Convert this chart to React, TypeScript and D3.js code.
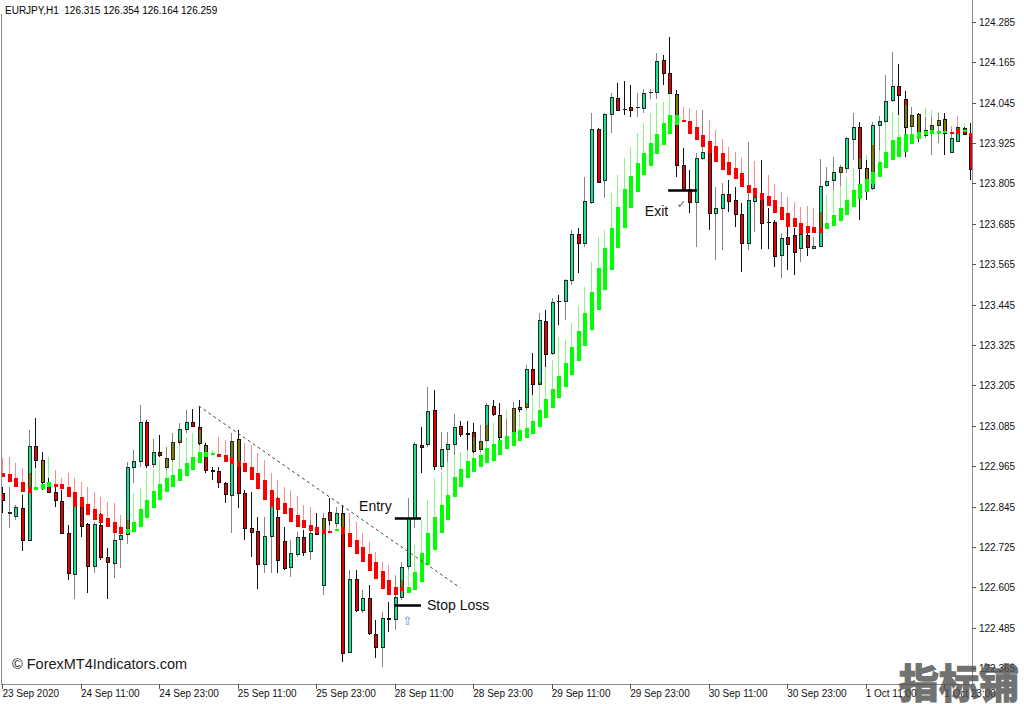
import React, { useEffect, useRef } from "react";
import * as d3 from "d3";

// chart header / footer texts
const symbolTitle = "EURJPY,H1  126.315 126.354 126.164 126.259";
const copyright = "© ForexMT4Indicators.com";
const watermark = "指标铺";

// time axis: label every 12 hourly bars
const timeLabelBars = [0, 12, 24, 36, 48, 60, 72, 84, 96, 108, 120, 132, 144];
const timeLabels = [
  "23 Sep 2020", "24 Sep 11:00", "24 Sep 23:00", "25 Sep 11:00", "25 Sep 23:00",
  "28 Sep 11:00", "28 Sep 23:00", "29 Sep 11:00", "29 Sep 23:00", "30 Sep 11:00",
  "30 Sep 23:00", "1 Oct 11:00", "1 Oct 23:00",
];

// price axis
const priceTicks = [
  124.285, 124.165, 124.045, 123.925, 123.805, 123.685, 123.565, 123.445, 123.325,
  123.205, 123.085, 122.965, 122.845, 122.725, 122.605, 122.485, 122.365,
];
const priceTop = 124.35;
const priceBottom = 122.318;

// EURJPY H1 candles
const opens = [
  122.886, 122.826, 122.817, 122.841, 122.746, 123.025, 122.984, 122.918, 122.889, 122.862,
  122.767, 122.645, 122.847, 122.794, 122.669, 122.791, 122.696, 122.678, 122.749, 122.764,
  122.963, 122.981, 123.097, 122.972, 123.008, 122.963, 122.987, 123.037, 123.076, 123.097,
  123.082, 123.028, 122.954, 122.951, 122.915, 122.880, 123.046, 122.886, 122.782, 122.773,
  122.675, 122.758, 122.815, 122.743, 122.666, 122.705, 122.755, 122.714, 122.782, 122.613,
  122.829, 122.797, 122.826, 122.414, 122.630, 122.538, 122.574, 122.467, 122.428, 122.515,
  122.512, 122.577, 122.669, 122.812, 123.028, 123.031, 123.132, 122.966, 123.017, 123.031,
  123.085, 123.064, 123.067, 123.017, 123.043, 123.144, 123.117, 123.052, 123.064, 123.141,
  123.141, 123.254, 123.210, 123.397, 123.302, 123.456, 123.456, 123.518, 123.655, 123.628,
  123.750, 123.967, 123.815, 124.011, 124.059, 124.026, 124.032, 124.032, 124.029, 124.077,
  124.077, 124.172, 124.133, 124.071, 123.860, 123.789, 123.750, 123.881, 123.899, 123.717,
  123.732, 123.774, 123.756, 123.714, 123.628, 123.753, 123.762, 123.691, 123.691, 123.593,
  123.646, 123.652, 123.613, 123.652, 123.613, 123.619, 123.801, 123.815, 123.839, 123.851,
  123.937, 123.973, 123.851, 123.792, 123.979, 123.991, 124.053, 124.095, 124.056, 123.976,
  124.011, 123.949, 123.955, 123.979, 123.997, 123.899, 123.931, 123.970, 123.955,
];
const highs = [
  122.904, 122.904, 122.850, 122.880, 123.073, 123.109, 123.008, 122.930, 122.904, 122.895,
  122.791, 122.850, 122.859, 122.797, 122.800, 122.826, 122.722, 122.776, 122.788, 122.978,
  123.014, 123.147, 123.103, 123.046, 123.058, 123.022, 123.064, 123.094, 123.132, 123.135,
  123.144, 123.034, 122.963, 122.963, 122.918, 123.064, 123.073, 122.895, 122.889, 122.815,
  122.815, 122.874, 122.874, 122.785, 122.746, 122.770, 122.776, 122.806, 122.826, 122.826,
  122.871, 122.844, 122.850, 122.657, 122.657, 122.598, 122.613, 122.509, 122.532, 122.562,
  122.636, 122.681, 122.871, 123.037, 123.082, 123.201, 123.192, 123.067, 123.067, 123.120,
  123.100, 123.100, 123.094, 123.088, 123.153, 123.162, 123.153, 123.106, 123.156, 123.162,
  123.266, 123.302, 123.420, 123.429, 123.465, 123.474, 123.521, 123.667, 123.673, 123.824,
  124.014, 123.970, 124.014, 124.074, 124.103, 124.109, 124.098, 124.074, 124.086, 124.086,
  124.193, 124.187, 124.240, 124.083, 123.910, 123.845, 123.896, 124.023, 123.905, 123.795,
  123.806, 123.815, 123.795, 123.747, 123.928, 123.777, 123.875, 123.732, 123.697, 123.658,
  123.676, 123.673, 123.670, 123.673, 123.646, 123.878, 123.854, 123.884, 123.860, 123.943,
  124.014, 123.988, 123.875, 123.988, 124.005, 124.127, 124.196, 124.160, 124.080, 124.032,
  124.014, 124.003, 124.003, 124.014, 124.014, 123.967, 123.976, 123.973, 123.985,
];
const lows = [
  122.826, 122.782, 122.806, 122.714, 122.743, 122.960, 122.895, 122.886, 122.844, 122.764,
  122.627, 122.571, 122.755, 122.589, 122.648, 122.687, 122.571, 122.633, 122.663, 122.734,
  122.915, 122.963, 122.960, 122.960, 122.993, 122.954, 122.978, 123.028, 123.064, 123.082,
  123.028, 122.945, 122.924, 122.901, 122.856, 122.767, 122.841, 122.746, 122.696, 122.601,
  122.648, 122.648, 122.648, 122.657, 122.636, 122.696, 122.699, 122.687, 122.761, 122.583,
  122.791, 122.785, 122.384, 122.411, 122.532, 122.529, 122.464, 122.396, 122.369, 122.473,
  122.479, 122.568, 122.657, 122.782, 122.945, 123.022, 122.954, 122.954, 122.978, 122.999,
  123.052, 123.014, 123.005, 123.008, 123.037, 123.114, 123.043, 123.028, 123.055, 123.126,
  123.132, 123.177, 123.207, 123.260, 123.296, 123.385, 123.400, 123.504, 123.539, 123.616,
  123.744, 123.806, 123.762, 123.955, 124.023, 124.008, 124.003, 124.003, 124.014, 124.056,
  124.056, 124.098, 124.074, 123.824, 123.789, 123.717, 123.616, 123.875, 123.667, 123.578,
  123.608, 123.720, 123.676, 123.542, 123.608, 123.661, 123.610, 123.610, 123.557, 123.524,
  123.548, 123.533, 123.572, 123.590, 123.610, 123.616, 123.795, 123.786, 123.798, 123.836,
  123.875, 123.697, 123.756, 123.786, 123.905, 123.985, 124.047, 124.008, 123.884, 123.952,
  123.928, 123.940, 123.890, 123.925, 123.890, 123.896, 123.931, 123.952, 123.815,
];
const closes = [
  122.865, 122.829, 122.844, 122.746, 123.025, 122.984, 122.918, 122.889, 122.865, 122.767,
  122.648, 122.847, 122.788, 122.669, 122.794, 122.696, 122.681, 122.746, 122.761, 122.963,
  122.981, 123.097, 122.969, 123.008, 122.999, 122.990, 123.037, 123.076, 123.097, 123.085,
  123.034, 122.954, 122.951, 122.918, 122.883, 123.040, 122.886, 122.782, 122.770, 122.675,
  122.758, 122.847, 122.687, 122.663, 122.708, 122.755, 122.711, 122.767, 122.764, 122.812,
  122.806, 122.826, 122.411, 122.630, 122.538, 122.574, 122.470, 122.428, 122.515, 122.512,
  122.577, 122.666, 122.812, 123.031, 123.022, 123.129, 122.966, 123.017, 123.031, 123.082,
  123.061, 123.061, 123.011, 123.040, 123.147, 123.120, 123.052, 123.055, 123.138, 123.135,
  123.254, 123.210, 123.400, 123.299, 123.453, 123.455, 123.518, 123.655, 123.628, 123.753,
  123.967, 123.809, 124.011, 124.062, 124.023, 124.025, 124.023, 124.033, 124.074, 124.078,
  124.169, 124.133, 124.074, 123.860, 123.789, 123.750, 123.881, 123.899, 123.717, 123.732,
  123.774, 123.753, 123.714, 123.628, 123.756, 123.765, 123.688, 123.690, 123.590, 123.643,
  123.625, 123.602, 123.655, 123.616, 123.619, 123.798, 123.812, 123.839, 123.854, 123.940,
  123.973, 123.851, 123.815, 123.979, 123.991, 124.050, 124.095, 124.068, 123.973, 124.008,
  123.958, 123.964, 123.979, 123.994, 123.955, 123.940, 123.973, 123.952, 123.848,
];

// smoothed heiken ashi indicator (body open/close and upper wick)
const haOpen = [
  122.945, 122.942, 122.930, 122.918, 122.904, 122.895, 122.898, 122.904, 122.913, 122.913,
  122.904, 122.889, 122.874, 122.853, 122.838, 122.823, 122.812, 122.800, 122.785, 122.767,
  122.770, 122.785, 122.812, 122.841, 122.865, 122.889, 122.904, 122.921, 122.936, 122.954,
  122.975, 122.993, 122.999, 123.002, 122.999, 122.990, 122.981, 122.975, 122.963, 122.945,
  122.924, 122.895, 122.871, 122.856, 122.841, 122.820, 122.806, 122.791, 122.785, 122.779,
  122.773, 122.773, 122.785, 122.767, 122.746, 122.725, 122.705, 122.681, 122.654, 122.627,
  122.607, 122.607, 122.589, 122.598, 122.621, 122.672, 122.717, 122.767, 122.806, 122.874,
  122.904, 122.930, 122.948, 122.963, 122.975, 122.981, 122.999, 123.017, 123.025, 123.040,
  123.049, 123.061, 123.082, 123.109, 123.138, 123.168, 123.201, 123.236, 123.278, 123.322,
  123.370, 123.429, 123.489, 123.548, 123.613, 123.673, 123.732, 123.780, 123.830, 123.857,
  123.893, 123.919, 123.952, 123.979, 123.994, 123.991, 123.973, 123.949, 123.931, 123.916,
  123.896, 123.869, 123.851, 123.836, 123.801, 123.792, 123.777, 123.768, 123.756, 123.735,
  123.717, 123.703, 123.688, 123.679, 123.676, 123.673, 123.670, 123.679, 123.694, 123.711,
  123.735, 123.759, 123.780, 123.804, 123.824, 123.851, 123.875, 123.884, 123.899, 123.922,
  123.937, 123.949, 123.952, 123.952, 123.955, 123.958, 123.967, 123.958, 123.955,
];
const haClose = [
  122.933, 122.918, 122.904, 122.889, 122.886, 122.904, 122.913, 122.918, 122.904, 122.898,
  122.874, 122.844, 122.844, 122.820, 122.806, 122.797, 122.785, 122.767, 122.764, 122.779,
  122.800, 122.838, 122.865, 122.892, 122.913, 122.930, 122.939, 122.957, 122.975, 122.993,
  123.008, 123.008, 123.005, 122.993, 122.978, 122.972, 122.963, 122.948, 122.924, 122.898,
  122.865, 122.844, 122.835, 122.823, 122.800, 122.785, 122.782, 122.773, 122.767, 122.764,
  122.767, 122.779, 122.764, 122.725, 122.705, 122.681, 122.654, 122.630, 122.601, 122.583,
  122.583, 122.595, 122.607, 122.651, 122.708, 122.767, 122.815, 122.850, 122.880, 122.933,
  122.957, 122.981, 122.990, 122.999, 123.020, 123.031, 123.043, 123.055, 123.067, 123.073,
  123.079, 123.100, 123.132, 123.165, 123.195, 123.233, 123.272, 123.319, 123.367, 123.420,
  123.483, 123.554, 123.613, 123.673, 123.735, 123.789, 123.827, 123.866, 123.896, 123.925,
  123.952, 123.985, 124.008, 124.008, 123.988, 123.952, 123.934, 123.913, 123.896, 123.869,
  123.845, 123.830, 123.818, 123.795, 123.777, 123.765, 123.756, 123.738, 123.717, 123.697,
  123.676, 123.676, 123.655, 123.658, 123.658, 123.658, 123.688, 123.711, 123.732, 123.756,
  123.786, 123.804, 123.818, 123.839, 123.869, 123.899, 123.934, 123.943, 123.952, 123.952,
  123.958, 123.961, 123.964, 123.961, 123.961, 123.952, 123.952, 123.964, 123.943,
];
const haHigh = [
  122.990, 122.993, 122.975, 122.960, 122.945, 122.984, 122.993, 122.993, 122.954, 122.930,
  122.945, 122.930, 122.918, 122.904, 122.889, 122.874, 122.859, 122.856, 122.820, 122.806,
  122.886, 122.901, 122.951, 122.957, 122.984, 123.020, 123.043, 123.043, 123.052, 123.064,
  123.073, 123.037, 123.014, 123.052, 123.043, 123.043, 123.067, 123.034, 123.028, 123.005,
  122.984, 122.945, 122.924, 122.904, 122.895, 122.877, 122.850, 122.844, 122.826, 122.812,
  122.806, 122.791, 122.820, 122.826, 122.800, 122.767, 122.740, 122.711, 122.681, 122.672,
  122.642, 122.627, 122.657, 122.731, 122.806, 122.865, 122.930, 122.948, 122.978, 123.008,
  123.008, 123.037, 123.052, 123.064, 123.088, 123.094, 123.117, 123.132, 123.153, 123.162,
  123.153, 123.192, 123.215, 123.275, 123.281, 123.349, 123.340, 123.391, 123.441, 123.498,
  123.572, 123.646, 123.667, 123.777, 123.830, 123.881, 123.913, 123.955, 123.985, 124.014,
  124.044, 124.047, 124.077, 124.077, 124.032, 124.029, 124.023, 124.003, 123.994, 123.964,
  123.937, 123.913, 123.899, 123.881, 123.881, 123.872, 123.854, 123.830, 123.804, 123.780,
  123.765, 123.750, 123.735, 123.738, 123.732, 123.720, 123.771, 123.786, 123.851, 123.821,
  123.851, 123.881, 123.890, 123.919, 123.949, 123.985, 124.017, 124.023, 124.038, 124.032,
  124.014, 124.029, 124.023, 124.017, 124.014, 123.976, 124.005, 123.985, 123.985,
];

// drawn objects on the chart (bar index, price)
const trendStart = { bar: 30, price: 123.144 };
const trendEnd = { bar: 70, price: 122.604 };
const entryLine = { label: "Entry", from: 60, to: 64, price: 122.812 };
const stopLine = { label: "Stop Loss", from: 60, to: 64, price: 122.553 };
const exitLine = { label: "Exit", from: 101.8, to: 106.2, price: 123.786 };
const arrowMark = { bar: 62, price: 122.506 };
const checkMark = { bar: 103.8, price: 123.741 };

const FONT = "'Liberation Sans', Arial, sans-serif";

const CandleChart = () => {
  const svgRef = useRef(null);

  useEffect(() => {
    const svg = d3.select(svgRef.current);
    svg.selectAll("*").remove();

    const plotRight = 972;
    const plotBottom = 684;

    const x = d3.scaleLinear().domain([0, opens.length - 1]).range([2.4, 970.3]);
    const y = d3.scaleLinear().domain([priceBottom, priceTop]).range([plotBottom, 0]);

    svg.append("rect").attr("width", 1024).attr("height", 704).attr("fill", "#ffffff");

    const plot = svg.append("g");
    const idx = d3.range(opens.length);
    const px = (i) => Math.round(x(i));
    const py = (p) => Math.round(y(p));

    // indicator wicks (under candles)
    plot
      .append("g")
      .selectAll("line")
      .data(idx)
      .join("line")
      .attr("x1", (i) => px(i) + 0.5)
      .attr("x2", (i) => px(i) + 0.5)
      .attr("y1", (i) => py(haHigh[i]))
      .attr("y2", (i) => py(Math.max(haOpen[i], haClose[i])))
      .attr("stroke", (i) => (haClose[i] >= haOpen[i] ? "#86f786" : "#ff8a8a"))
      .attr("stroke-width", 1);

    // candle wicks
    plot
      .append("g")
      .selectAll("line")
      .data(idx)
      .join("line")
      .attr("x1", (i) => px(i) + 0.5)
      .attr("x2", (i) => px(i) + 0.5)
      .attr("y1", (i) => py(highs[i]))
      .attr("y2", (i) => py(lows[i]))
      .attr("stroke", (i) => (closes[i] >= opens[i] ? "#858585" : "#111111"))
      .attr("stroke-width", 1);

    // candle bodies
    const bodies = plot.append("g");
    idx.forEach((i) => {
      const up = closes[i] >= opens[i];
      const top = py(Math.max(opens[i], closes[i]));
      const bot = py(Math.min(opens[i], closes[i]));
      const cx = px(i);
      if (bot - top < 1) {
        bodies
          .append("line")
          .attr("x1", cx - 1)
          .attr("x2", cx + 3)
          .attr("y1", top + 0.5)
          .attr("y2", top + 0.5)
          .attr("stroke", up ? "#2a2a2a" : "#111111");
        return;
      }
      bodies
        .append("rect")
        .attr("x", cx - 0.5)
        .attr("y", top + 0.5)
        .attr("width", 3)
        .attr("height", bot - top)
        .attr("fill", up ? "#17e38a" : "#e80000")
        .attr("stroke", up ? "#2a2a2a" : "#111111")
        .attr("stroke-width", 1);

      // where the indicator wick crosses a body it shows as olive
      const wTop = Math.max(top + 1, py(haHigh[i]));
      const wBot = Math.min(bot, py(Math.max(haOpen[i], haClose[i])));
      if (wBot - wTop >= 1) {
        bodies
          .append("rect")
          .attr("x", cx)
          .attr("y", wTop)
          .attr("width", 2)
          .attr("height", wBot - wTop)
          .attr("fill", "#7d7a08");
      }
    });

    // indicator bodies on top
    plot
      .append("g")
      .selectAll("rect")
      .data(idx)
      .join("rect")
      .attr("x", (i) => px(i) - 1)
      .attr("y", (i) => py(Math.max(haOpen[i], haClose[i])))
      .attr("width", 4)
      .attr("height", (i) =>
        Math.max(2, py(Math.min(haOpen[i], haClose[i])) - py(Math.max(haOpen[i], haClose[i]))),
      )
      .attr("fill", (i) => (haClose[i] >= haOpen[i] ? "#00ff00" : "#ff0000"));

    // trend line
    plot
      .append("line")
      .attr("x1", x(trendStart.bar))
      .attr("y1", y(trendStart.price))
      .attr("x2", x(trendEnd.bar))
      .attr("y2", y(trendEnd.price))
      .attr("stroke", "#444")
      .attr("stroke-width", 1)
      .attr("stroke-dasharray", "3,3");

    // entry / stop / exit marks
    [entryLine, stopLine, exitLine].forEach((m) => {
      plot
        .append("line")
        .attr("x1", x(m.from))
        .attr("x2", x(m.to))
        .attr("y1", py(m.price) + 0.5)
        .attr("y2", py(m.price) + 0.5)
        .attr("stroke", "#000")
        .attr("stroke-width", 2.5);
    });
    plot
      .append("text")
      .attr("x", x(entryLine.from) - 3)
      .attr("y", y(entryLine.price) - 7)
      .attr("text-anchor", "end")
      .attr("font-family", FONT)
      .attr("font-size", 14)
      .attr("fill", "#111")
      .text(entryLine.label);
    plot
      .append("text")
      .attr("x", x(stopLine.to) + 6)
      .attr("y", y(stopLine.price) + 5)
      .attr("font-family", FONT)
      .attr("font-size", 14)
      .attr("fill", "#111")
      .text(stopLine.label);
    plot
      .append("text")
      .attr("x", x(exitLine.from))
      .attr("y", y(exitLine.price) + 26)
      .attr("text-anchor", "end")
      .attr("font-family", FONT)
      .attr("font-size", 14)
      .attr("fill", "#111")
      .text(exitLine.label);
    plot
      .append("text")
      .attr("x", x(arrowMark.bar))
      .attr("y", y(arrowMark.price))
      .attr("text-anchor", "middle")
      .attr("dominant-baseline", "central")
      .attr("font-family", "'DejaVu Sans', sans-serif")
      .attr("font-size", 12)
      .attr("fill", "#5f93cc")
      .text("⇧");
    plot
      .append("text")
      .attr("x", x(checkMark.bar))
      .attr("y", y(checkMark.price))
      .attr("text-anchor", "middle")
      .attr("dominant-baseline", "central")
      .attr("font-family", "'DejaVu Sans', sans-serif")
      .attr("font-size", 11)
      .attr("fill", "#5a5a6a")
      .text("✓");

    // frame
    const frame = svg.append("g").attr("stroke", "#8c8c8c").attr("stroke-width", 1);
    frame.append("line").attr("x1", 1.5).attr("x2", 1.5).attr("y1", 14).attr("y2", plotBottom);
    frame.append("line").attr("x1", plotRight + 0.5).attr("x2", plotRight + 0.5).attr("y1", 0).attr("y2", plotBottom + 1);
    frame.append("line").attr("x1", 1).attr("x2", plotRight + 1).attr("y1", plotBottom + 0.5).attr("y2", plotBottom + 0.5);

    // price axis
    const yAxis = svg.append("g");
    yAxis
      .selectAll("line")
      .data(priceTicks)
      .join("line")
      .attr("x1", plotRight)
      .attr("x2", plotRight + 4)
      .attr("y1", (d) => py(d) + 0.5)
      .attr("y2", (d) => py(d) + 0.5)
      .attr("stroke", "#555");
    yAxis
      .selectAll("text")
      .data(priceTicks)
      .join("text")
      .attr("x", plotRight + 7)
      .attr("y", (d) => y(d) + 4)
      .attr("font-family", FONT)
      .attr("font-size", 10)
      .attr("fill", "#111")
      .text((d) => d3.format(".3f")(d));

    // time axis
    const xAxis = svg.append("g");
    xAxis
      .selectAll("line")
      .data(timeLabelBars)
      .join("line")
      .attr("x1", (d) => px(d) + 0.5)
      .attr("x2", (d) => px(d) + 0.5)
      .attr("y1", plotBottom)
      .attr("y2", plotBottom + 5)
      .attr("stroke", "#555");
    xAxis
      .selectAll("text")
      .data(timeLabelBars)
      .join("text")
      .attr("x", (d) => x(d))
      .attr("y", 697)
      .attr("font-family", FONT)
      .attr("font-size", 10)
      .attr("fill", "#111")
      .text((d, i) => timeLabels[i]);

    // texts
    svg
      .append("text")
      .attr("x", 5)
      .attr("y", 14)
      .attr("font-family", FONT)
      .attr("font-size", 10)
      .attr("fill", "#000")
      .style("white-space", "pre")
      .text(symbolTitle);
    svg
      .append("text")
      .attr("x", 12)
      .attr("y", 669)
      .attr("font-family", FONT)
      .attr("font-size", 14.5)
      .attr("fill", "#1a1a1a")
      .text(copyright);
    svg
      .append("text")
      .attr("x", 899)
      .attr("y", 698)
      .attr("font-family", "'Noto Sans CJK SC', sans-serif")
      .attr("font-weight", 700)
      .attr("font-size", 40)
      .attr("fill", "#505050")
      .attr("stroke", "#505050")
      .attr("stroke-width", 1.5)
      .attr("opacity", 0.8)
      .text(watermark);
  }, []);

  return (
    <svg
      ref={svgRef}
      width={1024}
      height={704}
      style={{ position: "fixed", left: 0, top: 0, display: "block" }}
    />
  );
};

export default function App() {
  return <CandleChart />;
}
